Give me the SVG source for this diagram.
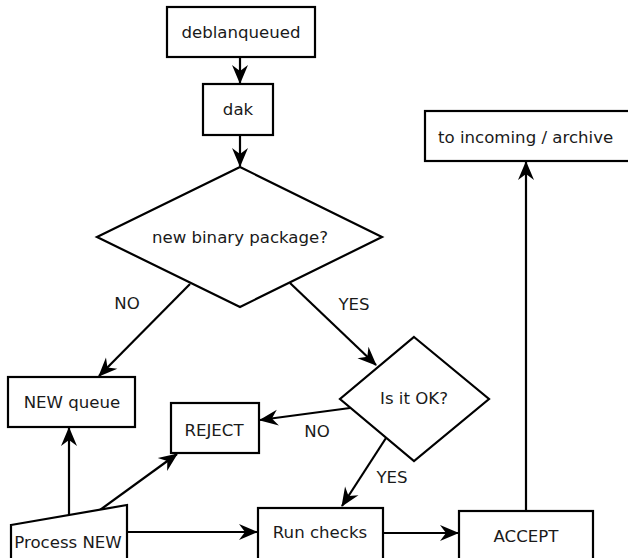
<svg xmlns="http://www.w3.org/2000/svg" width="628" height="558" viewBox="0 0 628 558">
<style>
.box{fill:#fff;stroke:#000;stroke-width:2.2}
.t{font-family:"DejaVu Sans",sans-serif;font-size:16.6px;fill:#1a1a1a;text-anchor:middle}
.c{fill:none;stroke:#000;stroke-width:2.2;marker-end:url(#ah)}
</style>
<defs>
<marker id="ah" markerUnits="userSpaceOnUse" markerWidth="26" markerHeight="22" viewBox="-22 -11 26 22" refX="0" refY="0" orient="auto">
<path d="M1,0 L-18,-8 L-12,0 L-18,8 Z" fill="#000"/>
</marker>
</defs>
<rect width="628" height="558" fill="#fff"/>
<g id="connectors">
<line class="c" x1="240" y1="57" x2="240" y2="83"/>
<line class="c" x1="240" y1="135" x2="240" y2="166"/>
<line class="c" x1="190" y1="284" x2="99" y2="376"/>
<line class="c" x1="290" y1="283" x2="376" y2="365"/>
<line class="c" x1="350" y1="408" x2="260" y2="420"/>
<line class="c" x1="386" y1="438" x2="342" y2="506"/>
<line class="c" x1="69" y1="515" x2="69" y2="428"/>
<line class="c" x1="100" y1="510" x2="177" y2="454"/>
<line class="c" x1="127" y1="532" x2="257" y2="532"/>
<line class="c" x1="383" y1="533" x2="458" y2="533"/>
<line class="c" x1="526" y1="511" x2="526" y2="162"/>
<text class="t" x="127" y="309">NO</text>
<text class="t" x="354" y="310">YES</text>
<text class="t" x="317" y="437">NO</text>
<text class="t" x="392" y="483">YES</text>
</g>
<g id="deblanqueued">
<rect class="box" x="167" y="7" width="148" height="50"/>
<text class="t" x="241" y="38">deblanqueued</text>
</g>
<g id="dak">
<rect class="box" x="203" y="84" width="70" height="51"/>
<text class="t" x="238" y="115">dak</text>
</g>
<g id="new-binary">
<polygon class="box" points="240,167 382,237 240,307 97,237"/>
<text class="t" x="240" y="243">new binary package?</text>
</g>
<g id="to-incoming">
<rect class="box" x="425" y="111" width="220" height="50"/>
<text class="t" x="438" y="143" style="text-anchor:start">to incoming / archive</text>
</g>
<g id="new-queue">
<rect class="box" x="8" y="377" width="127" height="50"/>
<text class="t" x="72" y="408">NEW queue</text>
</g>
<g id="reject">
<rect class="box" x="171" y="403" width="88" height="50"/>
<text class="t" x="214" y="436">REJECT</text>
</g>
<g id="is-it-ok">
<polygon class="box" points="414,337 489,399 414,461 340,399"/>
<text class="t" x="414" y="404">Is it OK?</text>
</g>
<g id="process-new">
<polygon class="box" points="11,525 127,505 127,562 11,562"/>
<text class="t" x="68" y="548">Process NEW</text>
</g>
<g id="run-checks">
<rect class="box" x="258" y="508" width="125" height="56"/>
<text class="t" x="320" y="538">Run checks</text>
</g>
<g id="accept">
<rect class="box" x="459" y="511" width="134" height="56"/>
<text class="t" x="526" y="542">ACCEPT</text>
</g>
</svg>
